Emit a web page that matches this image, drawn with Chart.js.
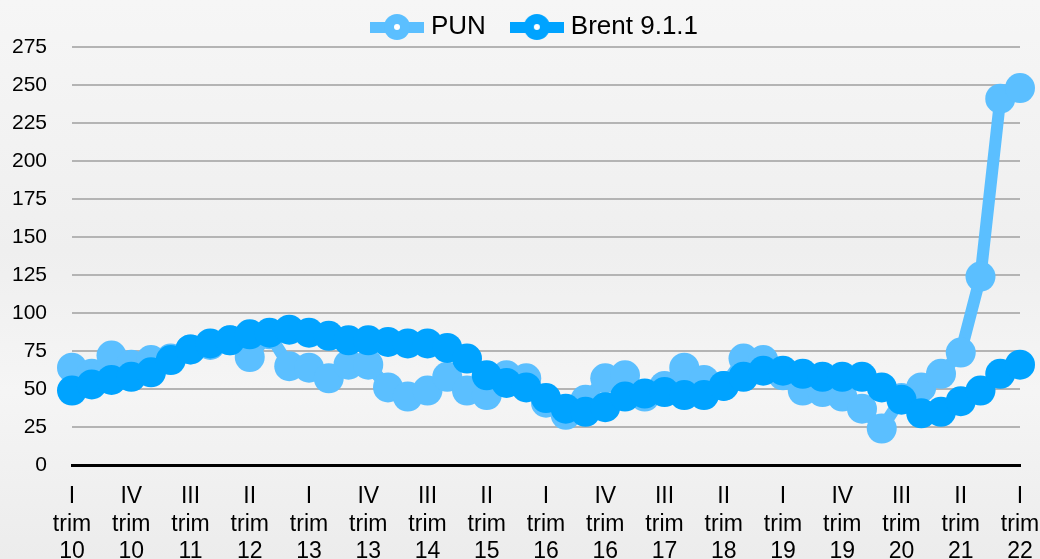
<!DOCTYPE html>
<html>
<head>
<meta charset="utf-8">
<script src="https://cdn.jsdelivr.net/npm/chart.js@4/dist/chart.umd.min.js"></script>
<style>
  html, body { margin: 0; padding: 0; background: #f3f3f3; }
  #wrap { width: 1040px; height: 559px; position: relative;
    background: linear-gradient(180deg, #f6f6f6 0%, #efefef 45%, #f5f5f5 70%, #ececec 100%); }
</style>
</head>
<body>
<div id="wrap"><canvas id="myChart" width="1040" height="559"></canvas></div>
<script>
// quarters from I trim 10 to I trim 22
var quarterNames = ['I', 'II', 'III', 'IV'];
var years = ['10', '11', '12', '13', '14', '15', '16', '17', '18', '19', '20', '21', '22'];

var pun = [64, 60, 72, 66, 69, 70, 76, 79, 82, 71, 86, 65, 64, 57, 66, 66, 51, 45, 49, 58,
  49, 46, 59, 57, 41, 33, 43, 57, 59, 45, 52, 64, 56, 52, 70, 69, 59, 49, 48, 45,
  37, 24, 44, 51, 60, 74, 124, 241, 248];
var brent = [49, 53, 56, 58, 61, 69, 76, 80, 82, 86, 87, 89, 87, 85, 82, 82, 81, 80, 80, 77,
  70, 59, 54, 51, 44, 37, 35, 38, 45, 47, 48, 46, 46, 52, 58, 62, 62, 60, 58, 58,
  58, 51, 43, 34, 35, 42, 49, 60, 66];

var punColor = '#5bbfff';
var brentColor = '#00a3ff';

var labels = [];
for (var y = 0; y < years.length; y++) {
  for (var q = 0; q < 4; q++) {
    if (labels.length < pun.length) labels.push([quarterNames[q], 'trim', years[y]]);
  }
}

function legendMarker(color) {
  var c = document.createElement('canvas');
  c.width = 54; c.height = 28;
  var g = c.getContext('2d');
  g.fillStyle = color;
  g.fillRect(0, 9, 54, 11);
  g.beginPath(); g.arc(27, 14, 13, 0, Math.PI * 2); g.fill();
  g.fillStyle = '#ffffff';
  g.beginPath(); g.arc(27, 14, 3, 0, Math.PI * 2); g.fill();
  return c;
}
var markers = [legendMarker(punColor), legendMarker(brentColor)];

// nudge the legend a bit right and down, like the original
var legendShift = {
  id: 'legendShift',
  afterLayout: function (chart) {
    chart.legend.left += 34;
    chart.legend.top += 3;
  }
};

var ctx = document.getElementById('myChart').getContext('2d');
var chart = new Chart(ctx, {
  type: 'line',
  data: {
    labels: labels,
    datasets: [{
      label: 'PUN',
      data: pun,
      borderColor: punColor,
      backgroundColor: punColor,
      pointBackgroundColor: punColor,
      borderWidth: 12,
      pointRadius: 15,
      pointBorderWidth: 0,
      tension: 0,
      order: 1
    }, {
      label: 'Brent 9.1.1',
      data: brent,
      borderColor: brentColor,
      backgroundColor: brentColor,
      pointBackgroundColor: brentColor,
      borderWidth: 12,
      pointRadius: 15,
      pointBorderWidth: 0,
      tension: 0,
      order: 0
    }]
  },
  plugins: [legendShift],
  options: {
    responsive: false,
    animation: false,
    layout: { padding: { left: 0, right: 0, top: -19, bottom: 0 } },
    plugins: {
      tooltip: { enabled: false },
      legend: {
        position: 'top',
        labels: {
          usePointStyle: true,
          pointStyleWidth: 42,
          padding: 30,
          color: '#000',
          font: { family: 'Liberation Sans, Arial', size: 26 },
          sort: function (a, b) { return a.datasetIndex - b.datasetIndex; },
          generateLabels: function (chart) {
            var items = Chart.defaults.plugins.legend.labels.generateLabels(chart);
            items.forEach(function (it) { it.pointStyle = markers[it.datasetIndex]; });
            return items;
          }
        }
      }
    },
    scales: {
      x: {
        offset: false,
        grid: { display: false, drawTicks: false },
        border: { display: true, color: '#000', width: 3 },
        afterFit: function (scale) {
          scale.height = 94;
          scale.paddingRight = 20;
          scale.paddingLeft = 0;
        },
        ticks: {
          autoSkip: false,
          maxRotation: 0,
          padding: 18,
          color: '#000',
          font: { family: 'Liberation Sans, Arial', size: 23, lineHeight: 1.2 },
          callback: function (v, i) { return i % 3 === 0 ? labels[i] : ''; }
        }
      },
      y: {
        min: 0,
        max: 275,
        afterFit: function (scale) { scale.width = 72; },
        border: { display: false },
        grid: { color: '#b4b4b4', lineWidth: 2, drawTicks: false },
        ticks: {
          stepSize: 25,
          padding: 25,
          color: '#000',
          font: { family: 'Liberation Sans, Arial', size: 21 }
        }
      }
    }
  }
});
</script>
</body>
</html>
